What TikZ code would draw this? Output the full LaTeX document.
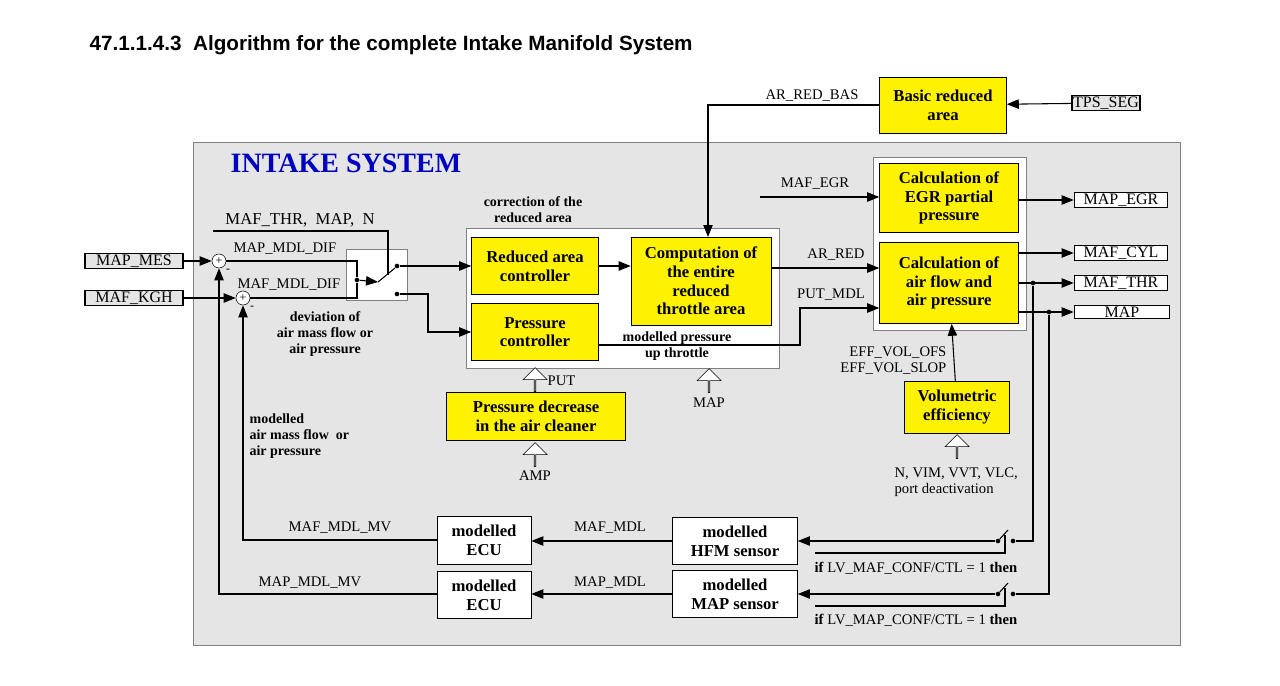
\documentclass[tikz,border=0pt]{standalone}
\usepackage{fontspec}
\setmainfont{Liberation Serif}
\newfontfamily\titlefont{Liberation Sans}
\usetikzlibrary{arrows.meta,shapes.arrows}
\begin{document}
\begin{tikzpicture}[x=0.75pt,y=-0.75pt,
  lab/.style={font=\fontsize{11}{12}\selectfont, inner sep=1pt},
  blab/.style={font=\fontsize{10.5}{12}\selectfont\bfseries, align=center, inner sep=1pt},
  yb/.style={draw, fill=yellow, font=\fontsize{12.5}{14}\selectfont\bfseries, align=center},
  wb/.style={draw, fill=white, font=\fontsize{12.5}{14}\selectfont\bfseries, align=center},
  io/.style={draw, very thick, fill=gray!20, font=\fontsize{12}{14}\selectfont, inner sep=1pt},
  oo/.style={draw, very thick, fill=white, font=\fontsize{12}{14}\selectfont, inner sep=1pt},
  ar/.style={-{Triangle[length=9pt,width=7pt]}, thick},
  ln/.style={thick},
  sm/.style={draw, circle, fill=white, minimum size=10.5pt, inner sep=0pt, font=\small},
  dot/.style={circle, fill, inner sep=0pt, minimum size=3.5pt},
  hol/.style={single arrow, draw, fill=white, shape border rotate=90, minimum height=18pt, minimum width=18pt, single arrow head extend=3pt, inner sep=0pt}
]
\useasboundingbox (0,0) rectangle (1280,685);
\node[anchor=west, font=\titlefont\bfseries\fontsize{15.5}{18}\selectfont] (title) at (85,45) {47.1.1.4.3\ \ Algorithm for the complete Intake Manifold System};
\node[draw=gray, fill=gray!20, minimum width=987*0.75pt, minimum height=503*0.75pt, anchor=north west, inner sep=0pt] (sys) at (193,142) {};
\node[anchor=west, text=blue!75!black, font=\fontsize{21}{24}\selectfont\bfseries] (systitle) at (226,163) {INTAKE SYSTEM};
% inner boxes
\node[draw=gray, fill=white, minimum width=313*0.75pt, minimum height=140*0.75pt, anchor=north west, inner sep=0pt] (inner) at (466,228) {};
\node[draw=gray, fill=white, minimum width=153*0.75pt, minimum height=173*0.75pt, anchor=north west, inner sep=0pt] (rinner) at (873,157) {};
\node[blab, anchor=south] (corr) at (533,224) {correction of the\\reduced area};
% yellow blocks
\node[yb, minimum width=127*0.75pt, minimum height=56*0.75pt] (basic) at (943,105) {Basic reduced\\area};
\node[io] (tps) at (1106,103) {TPS\_SEG};
\node[yb, minimum width=127*0.75pt, minimum height=57*0.75pt] (rac) at (535,266) {Reduced area\\controller};
\node[yb, minimum width=127*0.75pt, minimum height=57*0.75pt] (pc) at (535,332) {Pressure\\controller};
\node[yb, minimum width=140*0.75pt, minimum height=88*0.75pt] (comp) at (701,281) {Computation of\\the entire\\reduced\\throttle area};
\node[yb, minimum width=139*0.75pt, minimum height=69*0.75pt] (egr) at (949,198) {Calculation of\\EGR partial\\pressure};
\node[yb, minimum width=139*0.75pt, minimum height=81*0.75pt] (caf) at (949,283) {Calculation of\\air flow and\\air pressure};
\node[yb, minimum width=105*0.75pt, minimum height=52*0.75pt] (vol) at (957,407) {Volumetric\\efficiency};
\node[yb, minimum width=179*0.75pt, minimum height=48*0.75pt] (pd) at (536,416) {Pressure decrease\\in the air cleaner};
% white blocks
\node[wb, minimum width=125*0.75pt, minimum height=47*0.75pt] (hfm) at (735,541) {modelled\\HFM sensor};
\node[wb, minimum width=125*0.75pt, minimum height=47*0.75pt] (maps) at (735,594) {modelled\\MAP sensor};
\node[wb, minimum width=94*0.75pt, minimum height=48*0.75pt] (ecu1) at (484,540) {modelled\\ECU};
\node[wb, minimum width=94*0.75pt, minimum height=47*0.75pt] (ecu2) at (484,595) {modelled\\ECU};
% io boxes
\node[io, minimum width=98*0.75pt] (mapmes) at (134,261) {MAP\_MES};
\node[io, minimum width=98*0.75pt] (mafkgh) at (134,298) {MAF\_KGH};
\node[oo, minimum width=93*0.75pt] (mapegr) at (1121,200) {MAP\_EGR};
\node[oo, minimum width=93*0.75pt] (mafcyl) at (1121,253) {MAF\_CYL};
\node[oo, minimum width=93*0.75pt] (mafthr) at (1121,283) {MAF\_THR};
\node[oo, minimum width=95*0.75pt] (mapo) at (1122,312) {MAP};
% sums
\node[sm] (s1) at (219,261) {+};
\node[sm] (s2) at (243,298) {+};
\node[lab, font=\small] (m1) at (228,271) {-};
\node[lab, font=\small] (m2) at (252,308) {-};
% switch box
\node[draw=gray, fill=white, minimum width=61*0.75pt, minimum height=51*0.75pt, anchor=north west, inner sep=0pt] (swb) at (346,249) {};
\node[dot] (sin) at (357,280) {};
\node[dot] (st) at (397,266) {};
\node[dot] (sb) at (397,294) {};
\coordinate (lv) at (378,282);
\coordinate (lt) at (395,268);
% connectors left
\draw[ar] (mapmes) -- (s1);
\draw[ar] (mafkgh) -- (s2);
\draw[ln] (s1.east) -- (357,261) -- (sin);
\draw[ln] (s2.east) -- (357,298) -- (sin);
\draw[ar] (sin) -- (lv);
\draw[ln] (lv) -- (lt);
\draw[ar] (st) -- (rac.west |- st);
\draw[ar] (sb) -- (428,294) -- (428,332) -- (pc.west);
\coordinate (ctl0) at (213,231);
\draw[ln] (ctl0) -- (388,231) -- (388,275);
\node[lab, font=\fontsize{12.5}{14}\selectfont, anchor=south] (mmn) at (300,229) {MAF\_THR,\ \ MAP,\ \ N};
\node[lab, anchor=west] (l1) at (232,249) {MAP\_MDL\_DIF};
\node[lab, anchor=west] (l2) at (236,285) {MAF\_MDL\_DIF};
\node[blab] (dev) at (325,334) {deviation of\\air mass flow or\\air pressure};
\node[blab, align=left, anchor=north west] (mod) at (248,412) {modelled\\air mass flow\ \ or\\air pressure};
% middle
\draw[ar] (rac) -- (comp.west |- rac);
\draw[ar] (basic.west) -- (708,105) -- (708,237);
\node[lab, anchor=south] (arb) at (812,103) {AR\_RED\_BAS};
\draw[ar] (tps) -- (basic);
\coordinate (egrin) at (760,197);
\draw[ar] (egrin) -- (egr.west |- egrin);
\node[lab, anchor=south] (le) at (815,191) {MAF\_EGR};
\draw[ar] (comp.east |- 0,268) -- (caf.west |- 0,268);
\node[lab, anchor=south] (lar) at (836,262) {AR\_RED};
\draw[ar] (pc.east |- 0,345) -- (800,345) -- (800,308) -- (caf.west |- 0,308);
\node[lab, anchor=south] (lpm) at (831,302) {PUT\_MDL};
\node[blab] (mp) at (677,346) {modelled pressure\\up throttle};
% outputs
\draw[ar] (egr.east |- mapegr) -- (mapegr);
\draw[ar] (caf.east |- mafcyl) -- (mafcyl);
\draw[ar] (caf.east |- mafthr) -- (mafthr);
\draw[ar] (caf.east |- mapo) -- (mapo);
\node[dot] (t1) at (1033,283) {};
\node[dot] (t2) at (1049,312) {};
% vol eff
\draw[ar] (vol) -- (caf);
\node[lab, anchor=east, align=right] (eff) at (948,361) {EFF\_VOL\_OFS\\EFF\_VOL\_SLOP};
\node[hol] (h1) at (957,447) {};
\node[lab, anchor=north west, align=left] (nv) at (893,466) {N, VIM, VVT, VLC,\\port deactivation};
\node[hol] (h2) at (535,380) {};
\node[lab, anchor=west] (put) at (546,381) {PUT};
\node[hol] (h3) at (535,455) {};
\node[lab] (amp) at (535,476) {AMP};
\node[hol] (h4) at (709,381) {};
\node[lab] (mapl) at (709,403) {MAP};
% switches bottom
\node[dot] (a1) at (998,541) {};
\node[dot] (b1) at (1013,541) {};
\node[dot] (a2) at (998,594) {};
\node[dot] (b2) at (1013,594) {};
\draw[ln] (t1) -- (1033,541) -- (b1);
\draw[ln] (t2) -- (1049,594) -- (b2);
\draw[ln] (a1) -- (1008,530);
\draw[ln] (a2) -- (1008,583);
\draw[ar] (a1) -- (hfm);
\draw[ar] (a2) -- (maps);
\coordinate (c1) at (815,553);
\coordinate (c2) at (815,606);
\draw[ln] (c1) -- (1005,553) -- (1005,535);
\draw[ln] (c2) -- (1005,606) -- (1005,588);
\node[lab, anchor=west] (if1) at (813,568) {\textbf{if} LV\_MAF\_CONF/CTL = 1 \textbf{then}};
\node[lab, anchor=west] (if2) at (813,620) {\textbf{if} LV\_MAP\_CONF/CTL = 1 \textbf{then}};
% feedback
\draw[ar] (hfm) -- (ecu1.east |- hfm);
\draw[ar] (maps) -- (ecu2.east |- maps);
\node[lab, anchor=south] (lmm) at (610,535) {MAF\_MDL};
\node[lab, anchor=south] (lpp) at (610,590) {MAP\_MDL};
\draw[ar] (ecu1.west) -- (243,540) -- (s2.south);
\draw[ar] (ecu2.west |- 0,594) -- (219,594) -- (s1.south);
\node[lab, anchor=south] (lmv) at (340,535) {MAF\_MDL\_MV};
\node[lab, anchor=south] (lpv) at (310,590) {MAP\_MDL\_MV};
\end{tikzpicture}
\end{document}
